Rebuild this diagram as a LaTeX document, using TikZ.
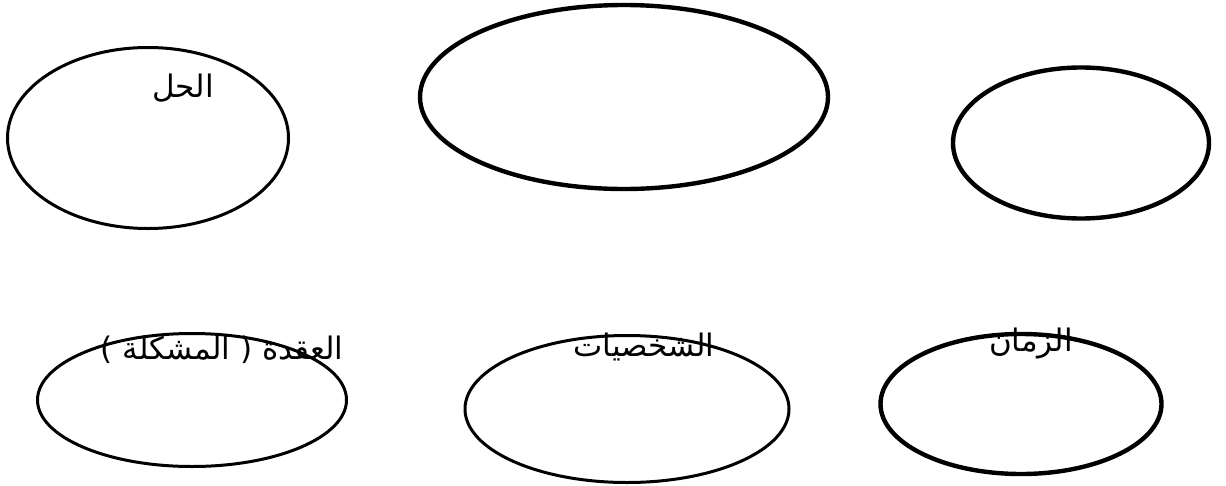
\documentclass[tikz,border=0pt]{standalone}
\usepackage{fontspec}
\usepackage{tikz}
\usetikzlibrary{shapes.geometric}
\TeXXeTstate=1
\newfontfamily\arabicfont[Script=Arabic]{DejaVu Sans}

\begin{document}
\begin{tikzpicture}[
    x=1pt, y=-1pt,
    oval/.style={ellipse, draw, line width=3pt, inner sep=0pt},
    boldoval/.style={oval, line width=4.4pt},
    word/.style={font=\arabicfont\fontsize{31}{36}\selectfont, inner sep=0pt}
]
    \useasboundingbox (0,0) rectangle (1226,485);

    % top row
    \node[oval, minimum width=281pt, minimum height=181pt] (hall) at (148,138) {};
    \node[boldoval, minimum width=408pt, minimum height=184pt] (middle) at (624,97) {};
    \node[boldoval, minimum width=256pt, minimum height=151pt] (corner) at (1081,143) {};

    % bottom row
    \node[oval, minimum width=309pt, minimum height=133pt] (uqda) at (192,400) {};
    \node[oval, minimum width=324pt, minimum height=147pt] (persons) at (627,409) {};
    \node[boldoval, minimum width=281pt, minimum height=140pt] (time) at (1021,404) {};

    % labels
    \node[word] (halltxt) at (183,88) {\beginR الحل\endR};
    \node[word] (uqdatxt) at (222,350) {\beginR العقدة ( المشكلة )\endR};
    \node[word] (personstxt) at (644,347) {\beginR الشخصيات\endR};
    \node[word] (timetxt) at (1031,344) {\beginR الزمان\endR};
\end{tikzpicture}
\end{document}
